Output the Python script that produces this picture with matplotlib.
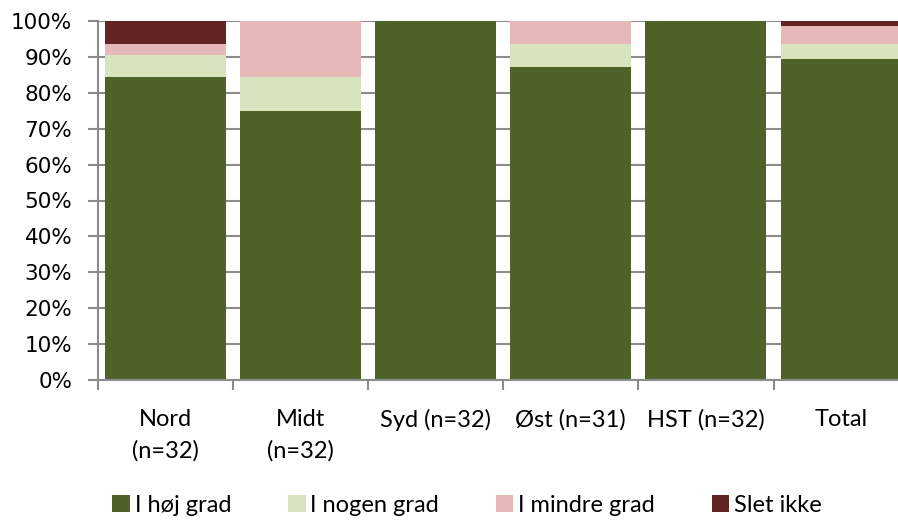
import matplotlib
matplotlib.use("Agg")
import matplotlib.pyplot as plt
from matplotlib.patches import Patch
import numpy as np

categories = ["Nord\n(n=32)", "Midt\n(n=32)", "Syd (n=32)", "Øst (n=31)", "HST (n=32)", "Total"]
series_names = ["I høj grad", "I nogen grad", "I mindre grad", "Slet ikke"]
hoj_grad = [84.4, 75.0, 100.0, 87.1, 100.0, 89.3]
nogen_grad = [6.2, 9.4, 0.0, 6.5, 0.0, 4.4]
mindre_grad = [3.1, 15.6, 0.0, 6.5, 0.0, 5.0]
slet_ikke = [6.3, 0.0, 0.0, 0.0, 0.0, 1.3]
y_ticks = [0, 10, 20, 30, 40, 50, 60, 70, 80, 90, 100]
y_tick_labels = [f"{v}%" for v in y_ticks]

colors = ["#4F6228", "#D7E4BD", "#E6B9B8", "#632523"]
grid_col = "#8C8C8C"

W, H = 898, 522
fig = plt.figure(figsize=(W / 100, H / 100), dpi=100)
ax = fig.add_axes([98 / W, 1 - 380 / H, (908.6 - 98) / W, (380 - 21) / H])

x = np.arange(len(categories))
bottom = np.zeros(len(categories))
for vals, col, name in zip([hoj_grad, nogen_grad, mindre_grad, slet_ikke], colors, series_names):
    v = np.array(vals)
    ax.bar(x, v, bottom=bottom, width=0.895, color=col, label=name, zorder=3, linewidth=0)
    bottom += v

ax.set_xlim(-0.5, len(categories) - 0.5)
ax.set_ylim(0, 100)
ax.set_yticks(y_ticks)
ax.set_yticklabels(y_tick_labels, fontsize=15.5, family="DejaVu Sans", color="#000000")
ax.yaxis.grid(True, color=grid_col, linewidth=1.5, zorder=0)
ax.tick_params(axis="y", length=7.5, width=1.5, color=grid_col, pad=11)

ax.set_xticks(x)
ax.set_xticklabels(categories, fontsize=17, family="Lato", linespacing=1.55)
ax.set_xticks(np.arange(len(categories) + 1) - 0.5, minor=True)
ax.tick_params(axis="x", which="major", length=0, pad=21)
ax.tick_params(axis="x", which="minor", length=7.5, width=1.5, color=grid_col)

for s in ["top", "right"]:
    ax.spines[s].set_visible(False)
for s in ["left", "bottom"]:
    ax.spines[s].set_color(grid_col)
    ax.spines[s].set_linewidth(1.5)
    ax.spines[s].set_zorder(4)

handles = [Patch(facecolor=c, edgecolor="none") for c in colors]
fig.legend(handles, series_names, loc="center", bbox_to_anchor=(0.52, 0.032), ncol=4,
           frameon=False, prop={"family": "Lato", "size": 17},
           handlelength=0.75, handleheight=0.75, handletextpad=0.2, columnspacing=2.4,
           borderpad=0.1)

fig.savefig("out.png", dpi=100)
